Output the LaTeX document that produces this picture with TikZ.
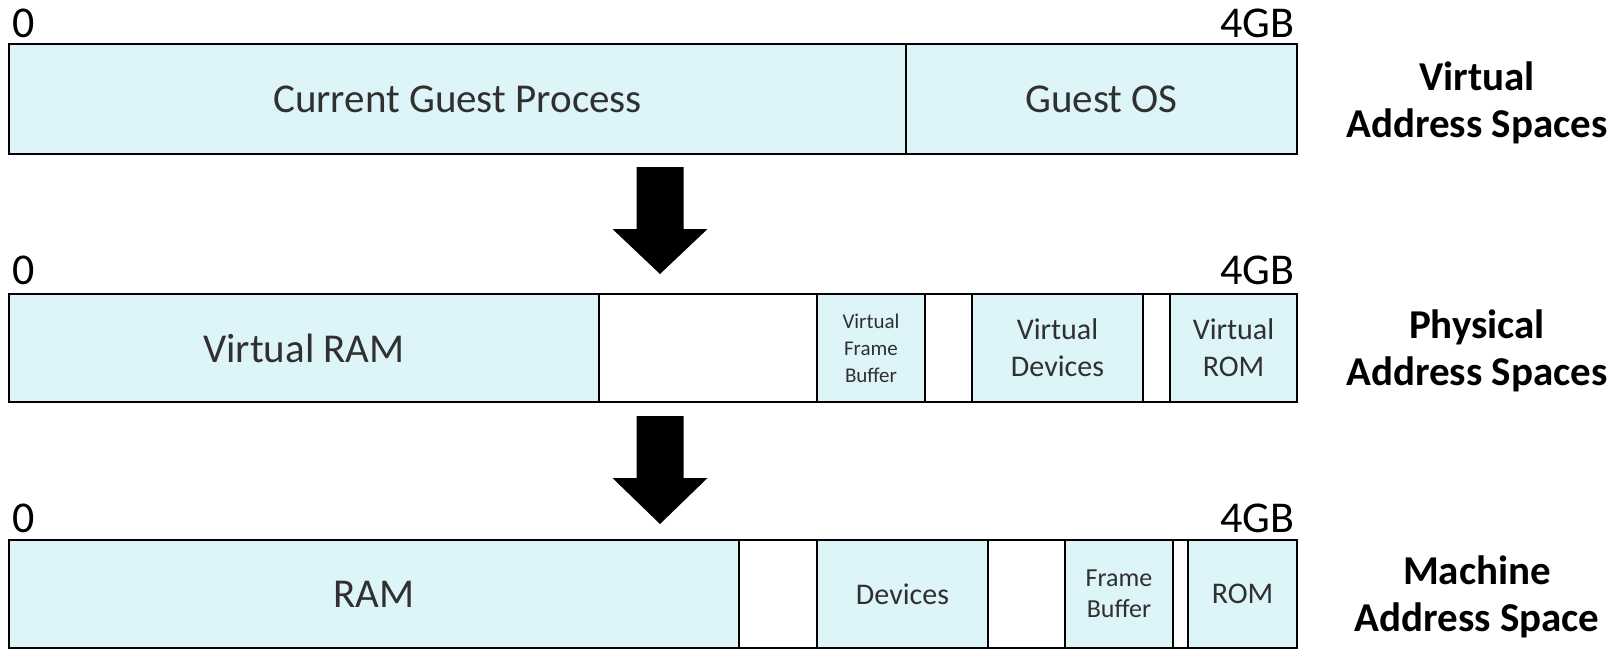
\documentclass[tikz,border=0pt]{standalone}
\usepackage{fontspec}
\setmainfont{Carlito}
\usetikzlibrary{fit}
\definecolor{SegBlue}{HTML}{DDF4F9}
\definecolor{SegText}{HTML}{303030}

\tikzset{
  seg/.style={draw=black,line width=1.4pt,inner sep=0pt},
  used/.style={seg,fill=SegBlue},
  hole/.style={seg,fill=white},
  segtxt/.style={text=SegText,align=center,inner sep=0pt},
  bigtxt/.style={segtxt,font=\fontsize{20.5}{24}\selectfont},
  midtxt/.style={segtxt,font=\fontsize{15}{18.5}\selectfont},
  fbtxt/.style={segtxt,font=\fontsize{13}{15.5}\selectfont},
  tinytxt/.style={segtxt,font=\fontsize{10.5}{13.5}\selectfont},
  addr/.style={inner sep=0pt,font=\fontsize{22}{26}\selectfont},
  spacename/.style={align=center,font=\bfseries\fontsize{20.5}{23.5}\selectfont}
}

\begin{document}
\begin{tikzpicture}[x=0.5pt,y=-0.5pt]
  \useasboundingbox (0,0) rectangle (1614,649);
  % virtual address space
  \node[addr] (v0) at (23.5,23) {0};
  \node[addr,anchor=east] (v4) at (1295,23) {4GB};
  \node[used,fit={(9,44) (906,154)},
        label={[bigtxt]center:Current Guest Process}] (cgp) {};
  \node[used,fit={(906,44) (1297,154)},
        label={[bigtxt]center:Guest OS}] (gos) {};
  \node[spacename] (vas) at (1477,103) {Virtual\\Address Spaces};
  % physical address space
  \node[addr] (p0) at (23.5,270.5) {0};
  \node[addr,anchor=east] (p4) at (1295,270.5) {4GB};
  \node[used,fit={(9,294) (599,402)},
        label={[bigtxt]center:Virtual RAM}] (vram) {};
  \node[hole,fit={(599,294) (817,402)}] (pgap1) {};
  \node[used,fit={(817,294) (925,402)},
        label={[tinytxt]center:{Virtual\\Frame\\Buffer}}] (vfb) {};
  \node[hole,fit={(925,294) (972,402)}] (pgap2) {};
  \node[used,fit={(972,294) (1143,402)},
        label={[midtxt]center:{Virtual\\Devices}}] (vdev) {};
  \node[hole,fit={(1143,294) (1170,402)}] (pgap3) {};
  \node[used,fit={(1170,294) (1297,402)},
        label={[midtxt]center:{Virtual\\ROM}}] (vrom) {};
  \node[spacename] (pas) at (1477,350.5) {Physical\\Address Spaces};
  % machine address space
  \node[addr] (m0) at (23.5,518.5) {0};
  \node[addr,anchor=east] (m4) at (1295,518.5) {4GB};
  \node[used,fit={(9,540) (739,648)},
        label={[bigtxt]center:RAM}] (ram) {};
  \node[hole,fit={(739,540) (817,648)}] (mgap1) {};
  \node[used,fit={(817,540) (988,648)},
        label={[midtxt]center:Devices}] (dev) {};
  \node[hole,fit={(988,540) (1065,648)}] (mgap2) {};
  \node[used,fit={(1065,540) (1173,648)},
        label={[fbtxt]center:{Frame\\Buffer}}] (fb) {};
  \node[hole,fit={(1173,540) (1188,648)}] (mgap3) {};
  \node[used,fit={(1188,540) (1297,648)},
        label={[midtxt]center:ROM}] (rom) {};
  \node[spacename] (mas) at (1477,597) {Machine\\Address Space};
  % block arrows between the levels
  \foreach \top/\base/\tip in {167/229/274,416/478/524}
    \fill (636.5,\top) -- (683.5,\top) -- (683.5,\base) -- (707.5,\base)
          -- (660,\tip) -- (612.5,\base) -- (636.5,\base) -- cycle;
\end{tikzpicture}
\end{document}
